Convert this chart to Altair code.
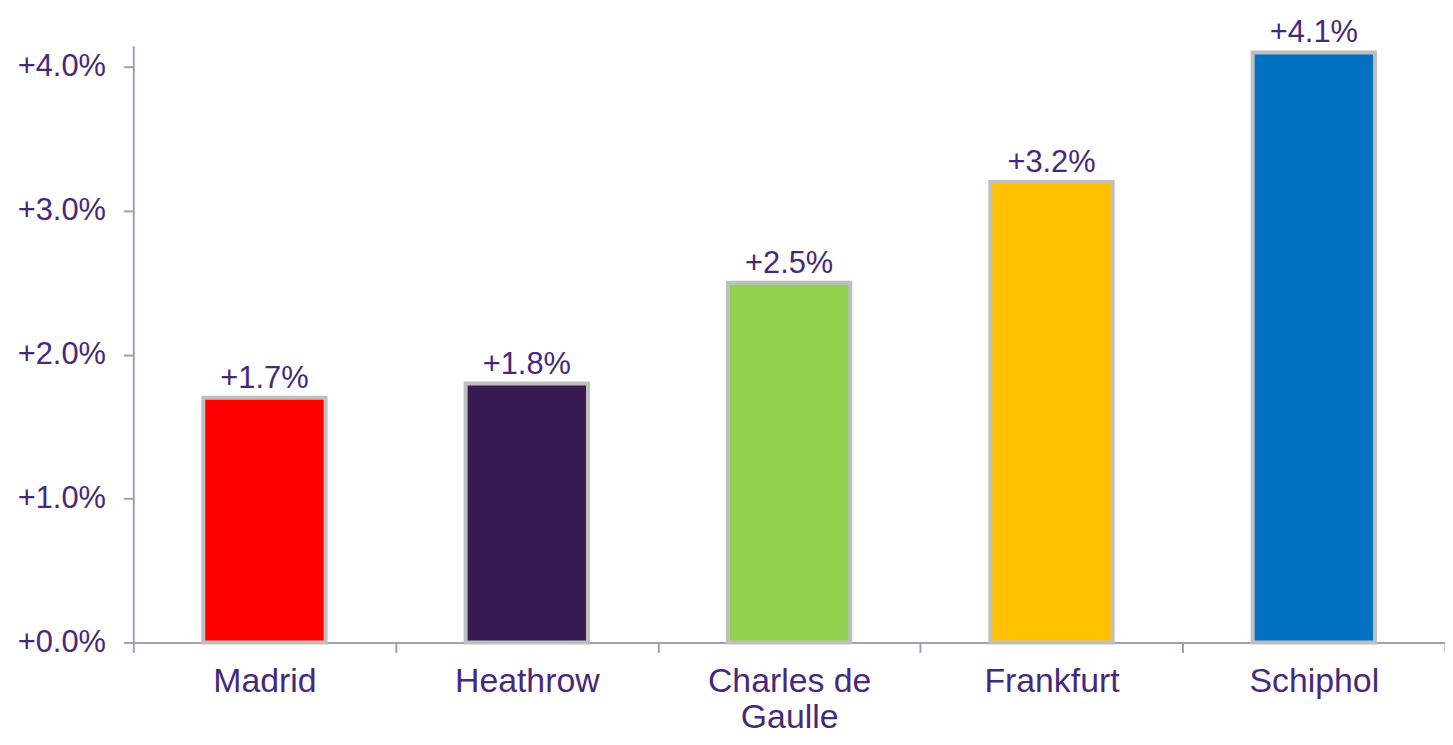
import altair as alt
import pandas as pd

airports = ["Madrid", "Heathrow", "Charles de Gaulle", "Frankfurt", "Schiphol"]
growth = [1.7, 1.8, 2.5, 3.2, 4.1]
colors = ["#FF0000", "#371A52", "#92D050", "#FFC000", "#0070C0"]
y_ticks = [0, 1, 2, 3, 4]

df = pd.DataFrame({"airport": airports, "growth": growth})
df["label"] = df["growth"].map(lambda v: f"+{v:.1f}%")

TEXT = "#48287A"
AXIS = "#A39DB8"
FONT = "Liberation Sans"

x = alt.X(
    "airport:N",
    sort=airports,
    title=None,
    scale=alt.Scale(paddingInner=0, paddingOuter=0),
    axis=alt.Axis(
        labelAngle=0,
        labelFontSize=34,
        labelFont=FONT,
        labelColor=TEXT,
        labelPadding=12,
        labelLineHeight=36,
        labelExpr="datum.value == 'Charles de Gaulle' ? ['Charles de', 'Gaulle'] : datum.value",
        domainColor=AXIS,
        domainWidth=2,
        tickColor=AXIS,
        tickWidth=2,
        tickSize=10,
        tickBand="extent",
        grid=False,
    ),
)
y = alt.Y(
    "growth:Q",
    title=None,
    scale=alt.Scale(domain=[0, 4.146], nice=False, zero=True),
    axis=alt.Axis(
        values=y_ticks,
        labelExpr="'+' + format(datum.value, '.1f') + '%'",
        labelFontSize=31,
        labelFont=FONT,
        labelColor=TEXT,
        labelPadding=18,
        domainColor=AXIS,
        domainWidth=2,
        tickColor=AXIS,
        tickWidth=2,
        tickSize=10,
        grid=False,
    ),
)

bars = alt.Chart(df).mark_bar(size=123, stroke="#BFBFBF", strokeWidth=4).encode(
    x=x,
    y=y,
    color=alt.Color("airport:N", scale=alt.Scale(domain=airports, range=colors), legend=None),
)

labels = alt.Chart(df).mark_text(
    font=FONT, fontSize=31, color=TEXT, baseline="alphabetic", dy=-10
).encode(x=alt.X("airport:N", sort=airports), y="growth:Q", text="label:N")

chart = (
    alt.layer(bars, labels)
    .properties(
        width=1319,
        height=600,
        background="white",
        autosize=alt.AutoSizeParams(type="none"),
        padding={"left": 126, "top": 36, "right": 0, "bottom": 93},
    )
    .configure_view(strokeWidth=0, stroke="transparent")
)

chart.save("out.html", embed_options={"renderer": "svg", "actions": False})
